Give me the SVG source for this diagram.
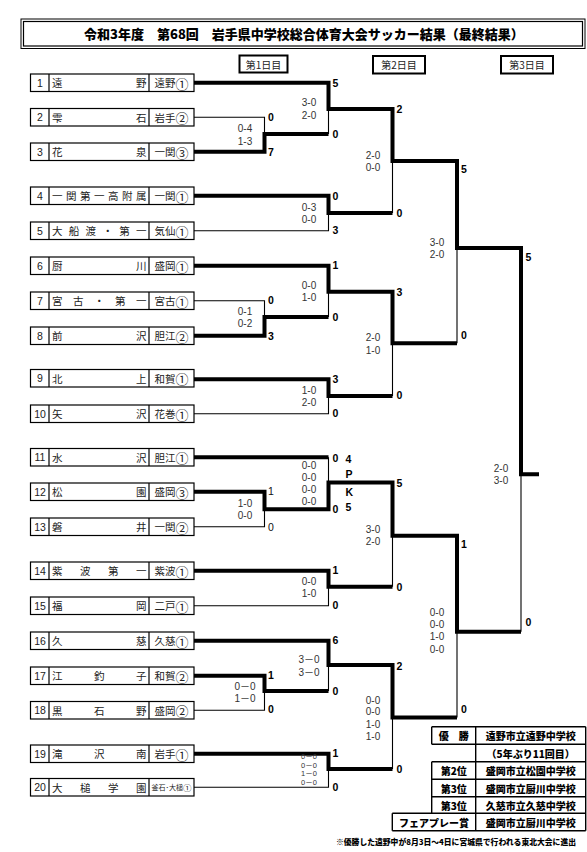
<svg xmlns="http://www.w3.org/2000/svg" width="587" height="852" viewBox="0 0 587 852">
<style>
text{dominant-baseline:central}
.box{fill:none;stroke:#000;stroke-width:1.2}
.num{font-family:"Liberation Sans",sans-serif;font-size:10.5px;fill:#222;text-anchor:middle}
.nm{font-family:"Noto Sans CJK JP",sans-serif;font-size:10.5px;fill:#222}
.rg{font-family:"Noto Sans CJK JP",sans-serif;font-size:10.5px;fill:#222;text-anchor:middle}
.c{font-size:13px}
.sm{font-size:7px}
.thick{fill:none;stroke:#000;stroke-width:4;stroke-linejoin:miter}
.thin{fill:none;stroke:#000;stroke-width:1.1}
.s{font-family:"Liberation Sans","Noto Sans CJK JP",sans-serif;font-size:10px;fill:#333;text-anchor:middle}
.ss{font-family:"Liberation Sans","Noto Sans CJK JP",sans-serif;font-size:7.5px;fill:#333;text-anchor:middle}
.w{font-family:"Liberation Sans",sans-serif;font-size:10.5px;font-weight:bold;fill:#000}
.wn{font-family:"Liberation Sans",sans-serif;font-size:10.5px;fill:#111}
.day{font-family:"Noto Sans CJK JP",sans-serif;font-size:10px;fill:#222;text-anchor:middle}
.dbox{fill:none;stroke:#000;stroke-width:2}
.tb{font-family:"Noto Sans CJK JP",sans-serif;font-size:10px;font-weight:900;fill:#000;text-anchor:middle}
.fn{font-family:"Noto Sans CJK JP",sans-serif;font-size:7.8px;font-weight:900;fill:#000;text-anchor:middle}
.tl{fill:none;stroke:#000;stroke-width:1.4}
</style>

<g id="title">
<rect x="21" y="19" width="564" height="29.5" fill="none" stroke="#000" stroke-width="1"/>
<rect x="23.5" y="21.5" width="559" height="24.5" fill="none" stroke="#000" stroke-width="1.2"/>
<text x="304" y="33.5" font-family="Noto Sans CJK JP,sans-serif" font-size="13" font-weight="900" fill="#000" text-anchor="middle">令和3年度　第68回　岩手県中学校総合体育大会サッカー結果（最終結果）</text>
</g>

<g id="day1"><rect x="239.5" y="55.5" width="48" height="17" class="dbox"/><text x="263.5" y="64" class="day">第1日目</text></g>
<g id="day2"><rect x="373" y="56" width="52" height="17.5" class="dbox"/><text x="399" y="64.75" class="day">第2日目</text></g>
<g id="day3"><rect x="501" y="56" width="52" height="17.5" class="dbox"/><text x="527" y="64.75" class="day">第3日目</text></g>

<g id="team1" transform="translate(0,74)"><rect x="30.5" y="0" width="163.5" height="17.5" class="box"/><path d="M49 0V17.5M149 0V17.5" class="box"/><text x="40" y="8.75" class="num">1</text><text x="52 136" y="8.75" class="nm">遠野</text><text x="171.5" y="8.75" class="rg">遠野<tspan class="c">①</tspan></text></g>
<g id="team2" transform="translate(0,108.5)"><rect x="30.5" y="0" width="163.5" height="17.5" class="box"/><path d="M49 0V17.5M149 0V17.5" class="box"/><text x="40" y="8.75" class="num">2</text><text x="52 136" y="8.75" class="nm">雫石</text><text x="171.5" y="8.75" class="rg">岩手<tspan class="c">②</tspan></text></g>
<g id="team3" transform="translate(0,143)"><rect x="30.5" y="0" width="163.5" height="17.5" class="box"/><path d="M49 0V17.5M149 0V17.5" class="box"/><text x="40" y="8.75" class="num">3</text><text x="52 136" y="8.75" class="nm">花泉</text><text x="171.5" y="8.75" class="rg">一関<tspan class="c">③</tspan></text></g>
<g id="team4" transform="translate(0,187)"><rect x="30.5" y="0" width="163.5" height="17.5" class="box"/><path d="M49 0V17.5M149 0V17.5" class="box"/><text x="40" y="8.75" class="num">4</text><text x="52 66 80 94 108 122 136" y="8.75" class="nm">一関第一高附属</text><text x="171.5" y="8.75" class="rg">一関<tspan class="c">①</tspan></text></g>
<g id="team5" transform="translate(0,222)"><rect x="30.5" y="0" width="163.5" height="17.5" class="box"/><path d="M49 0V17.5M149 0V17.5" class="box"/><text x="40" y="8.75" class="num">5</text><text x="52 68.8 85.6 102.4 119.2 136" y="8.75" class="nm">大船渡・第一</text><text x="171.5" y="8.75" class="rg">気仙<tspan class="c">①</tspan></text></g>
<g id="team6" transform="translate(0,257)"><rect x="30.5" y="0" width="163.5" height="17.5" class="box"/><path d="M49 0V17.5M149 0V17.5" class="box"/><text x="40" y="8.75" class="num">6</text><text x="52 136" y="8.75" class="nm">厨川</text><text x="171.5" y="8.75" class="rg">盛岡<tspan class="c">①</tspan></text></g>
<g id="team7" transform="translate(0,292)"><rect x="30.5" y="0" width="163.5" height="17.5" class="box"/><path d="M49 0V17.5M149 0V17.5" class="box"/><text x="40" y="8.75" class="num">7</text><text x="52 73 94 115 136" y="8.75" class="nm">宮古・第一</text><text x="171.5" y="8.75" class="rg">宮古<tspan class="c">①</tspan></text></g>
<g id="team8" transform="translate(0,327)"><rect x="30.5" y="0" width="163.5" height="17.5" class="box"/><path d="M49 0V17.5M149 0V17.5" class="box"/><text x="40" y="8.75" class="num">8</text><text x="52 136" y="8.75" class="nm">前沢</text><text x="171.5" y="8.75" class="rg">胆江<tspan class="c">②</tspan></text></g>
<g id="team9" transform="translate(0,369.5)"><rect x="30.5" y="0" width="163.5" height="17.5" class="box"/><path d="M49 0V17.5M149 0V17.5" class="box"/><text x="40" y="8.75" class="num">9</text><text x="52 136" y="8.75" class="nm">北上</text><text x="171.5" y="8.75" class="rg">和賀<tspan class="c">①</tspan></text></g>
<g id="team10" transform="translate(0,405)"><rect x="30.5" y="0" width="163.5" height="17.5" class="box"/><path d="M49 0V17.5M149 0V17.5" class="box"/><text x="40" y="8.75" class="num">10</text><text x="52 136" y="8.75" class="nm">矢沢</text><text x="171.5" y="8.75" class="rg">花巻<tspan class="c">①</tspan></text></g>
<g id="team11" transform="translate(0,448.5)"><rect x="30.5" y="0" width="163.5" height="17.5" class="box"/><path d="M49 0V17.5M149 0V17.5" class="box"/><text x="40" y="8.75" class="num">11</text><text x="52 136" y="8.75" class="nm">水沢</text><text x="171.5" y="8.75" class="rg">胆江<tspan class="c">①</tspan></text></g>
<g id="team12" transform="translate(0,483)"><rect x="30.5" y="0" width="163.5" height="17.5" class="box"/><path d="M49 0V17.5M149 0V17.5" class="box"/><text x="40" y="8.75" class="num">12</text><text x="52 136" y="8.75" class="nm">松園</text><text x="171.5" y="8.75" class="rg">盛岡<tspan class="c">③</tspan></text></g>
<g id="team13" transform="translate(0,518)"><rect x="30.5" y="0" width="163.5" height="17.5" class="box"/><path d="M49 0V17.5M149 0V17.5" class="box"/><text x="40" y="8.75" class="num">13</text><text x="52 136" y="8.75" class="nm">磐井</text><text x="171.5" y="8.75" class="rg">一関<tspan class="c">②</tspan></text></g>
<g id="team14" transform="translate(0,562)"><rect x="30.5" y="0" width="163.5" height="17.5" class="box"/><path d="M49 0V17.5M149 0V17.5" class="box"/><text x="40" y="8.75" class="num">14</text><text x="52 80 108 136" y="8.75" class="nm">紫波第一</text><text x="171.5" y="8.75" class="rg">紫波<tspan class="c">①</tspan></text></g>
<g id="team15" transform="translate(0,597)"><rect x="30.5" y="0" width="163.5" height="17.5" class="box"/><path d="M49 0V17.5M149 0V17.5" class="box"/><text x="40" y="8.75" class="num">15</text><text x="52 136" y="8.75" class="nm">福岡</text><text x="171.5" y="8.75" class="rg">二戸<tspan class="c">①</tspan></text></g>
<g id="team16" transform="translate(0,632)"><rect x="30.5" y="0" width="163.5" height="17.5" class="box"/><path d="M49 0V17.5M149 0V17.5" class="box"/><text x="40" y="8.75" class="num">16</text><text x="52 136" y="8.75" class="nm">久慈</text><text x="171.5" y="8.75" class="rg">久慈<tspan class="c">①</tspan></text></g>
<g id="team17" transform="translate(0,667)"><rect x="30.5" y="0" width="163.5" height="17.5" class="box"/><path d="M49 0V17.5M149 0V17.5" class="box"/><text x="40" y="8.75" class="num">17</text><text x="52 94 136" y="8.75" class="nm">江釣子</text><text x="171.5" y="8.75" class="rg">和賀<tspan class="c">②</tspan></text></g>
<g id="team18" transform="translate(0,701.5)"><rect x="30.5" y="0" width="163.5" height="17.5" class="box"/><path d="M49 0V17.5M149 0V17.5" class="box"/><text x="40" y="8.75" class="num">18</text><text x="52 94 136" y="8.75" class="nm">黒石野</text><text x="171.5" y="8.75" class="rg">盛岡<tspan class="c">②</tspan></text></g>
<g id="team19" transform="translate(0,745)"><rect x="30.5" y="0" width="163.5" height="17.5" class="box"/><path d="M49 0V17.5M149 0V17.5" class="box"/><text x="40" y="8.75" class="num">19</text><text x="52 94 136" y="8.75" class="nm">滝沢南</text><text x="171.5" y="8.75" class="rg">岩手<tspan class="c">①</tspan></text></g>
<g id="team20" transform="translate(0,778.5)"><rect x="30.5" y="0" width="163.5" height="17.5" class="box"/><path d="M49 0V17.5M149 0V17.5" class="box"/><text x="40" y="8.75" class="num">20</text><text x="52 80 108 136" y="8.75" class="nm">大槌学園</text><text x="171.5" y="8.75" class="rg sm">釜石･大槌<tspan style="font-size:8.5px">①</tspan></text></g>

<g id="connectors">
<path class="thin" d="M194 117.25H264.5V134M194 230.75H328.5V213M194 300.75H264.5V317M194 413.75H328.5V396M328.5 457.25V482.5M194 526.75H264.5V509.3M194 605.75H328.5V586.7M194 710.25H264.5V691M194 787.25H328.5V769M328.5 109V134M328.5 291.7V317M328.5 665V691M392.5 161V213M392.5 343.3V396M392.5 535.7V586.7M392.5 717.5V769M457 248V343.3M457 631.7V717.5M521 474.3V631.7"/>
<path class="thick" d="M194 82.75H328.5V109H392.5V161H457V248H521V474.3H539"/>
<path class="thick" d="M194 151.75H264.5V134H328.5"/>
<path class="thick" d="M194 195.75H328.5V213H392.5"/>
<path class="thick" d="M194 265.75H328.5V291.7H392.5V343.3H457"/>
<path class="thick" d="M194 335.75H264.5V317H328.5"/>
<path class="thick" d="M194 379.25H328.5V396H392.5"/>
<path class="thick" d="M194 457.25H328.5"/>
<path class="thick" d="M194 491.75H264.5V509.3H328.5V482.5H392.5V535.7H457V631.7H521"/>
<path class="thick" d="M194 570.75H328.5V586.7H392.5"/>
<path class="thick" d="M194 640.75H328.5V665H392.5V717.5H457"/>
<path class="thick" d="M194 675.75H264.5V691H328.5"/>
<path class="thick" d="M194 753.75H328.5V769H392.5"/>
</g>

<g id="labels">
<text x="268" y="117.3" class="w">0</text><text x="268" y="151.7" class="w">7</text>
<text x="268" y="300.3" class="w">0</text><text x="268" y="335.7" class="w">3</text>
<text x="268" y="491" class="wn">1</text><text x="268" y="526.7" class="wn">0</text>
<text x="268" y="675" class="w">1</text><text x="268" y="709.3" class="w">0</text>
<text x="332.5" y="83" class="w">5</text><text x="332.5" y="134" class="w">0</text>
<text x="332.5" y="195.7" class="w">0</text><text x="332.5" y="230" class="w">3</text>
<text x="332.5" y="265" class="w">1</text><text x="332.5" y="317" class="w">0</text>
<text x="332.5" y="378.5" class="w">3</text><text x="332.5" y="413" class="w">0</text>
<text x="332.5" y="457.7" class="w">0</text><text x="332.5" y="509" class="w">0</text>
<text x="332.5" y="570.3" class="w">1</text><text x="332.5" y="605" class="w">0</text>
<text x="332.5" y="640" class="w">6</text><text x="332.5" y="691" class="w">0</text>
<text x="332.5" y="753.3" class="w">1</text><text x="332.5" y="786.7" class="w">0</text>
<text x="345.5" y="459.3" class="w">4</text><text x="345.5" y="474.3" class="w">P</text><text x="345.5" y="492.3" class="w">K</text><text x="345.5" y="507.3" class="w">5</text>
<text x="396.5" y="109" class="w">2</text><text x="396.5" y="213.3" class="w">0</text>
<text x="396.5" y="291.7" class="w">3</text><text x="396.5" y="395.3" class="w">0</text>
<text x="396.5" y="482.7" class="w">5</text><text x="396.5" y="586.7" class="w">0</text>
<text x="396.5" y="666" class="w">2</text><text x="396.5" y="769" class="w">0</text>
<text x="461" y="169" class="w">5</text><text x="461" y="335" class="w">0</text>
<text x="461" y="544" class="w">1</text><text x="461" y="709" class="w">0</text>
<text x="525.5" y="256.7" class="w">5</text><text x="525.5" y="622.3" class="w">0</text>

<text x="245" y="128.7" class="s">0-4</text><text x="245" y="141.3" class="s">1-3</text>
<text x="245" y="311" class="s">0-1</text><text x="245" y="323.3" class="s">0-2</text>
<text x="245" y="503" class="s">1-0</text><text x="245" y="515" class="s">0-0</text>
<text x="245" y="686" class="s">0－0</text><text x="245" y="698.3" class="s">1－0</text>
<text x="309" y="102.7" class="s">3-0</text><text x="309" y="115" class="s">2-0</text>
<text x="309" y="207.3" class="s">0-3</text><text x="309" y="219.3" class="s">0-0</text>
<text x="309" y="285" class="s">0-0</text><text x="309" y="297.3" class="s">1-0</text>
<text x="309" y="390.3" class="s">1-0</text><text x="309" y="402.7" class="s">2-0</text>
<text x="309" y="465.3" class="s">0-0</text><text x="309" y="477.3" class="s">0-0</text><text x="309" y="489.3" class="s">0-0</text><text x="309" y="501.3" class="s">0-0</text>
<text x="309" y="581.7" class="s">0-0</text><text x="309" y="593.3" class="s">1-0</text>
<text x="309" y="659.3" class="s">3－0</text><text x="309" y="672.3" class="s">3－0</text>
<text x="309" y="756.7" class="ss">0－0</text><text x="309" y="765" class="ss">0－0</text><text x="309" y="773.7" class="ss">1－0</text><text x="309" y="782.3" class="ss">0－0</text>
<text x="373" y="155.7" class="s">2-0</text><text x="373" y="167.7" class="s">0-0</text>
<text x="373" y="337.3" class="s">2-0</text><text x="373" y="350" class="s">1-0</text>
<text x="373" y="529.3" class="s">3-0</text><text x="373" y="541" class="s">2-0</text>
<text x="373" y="700" class="s">0-0</text><text x="373" y="711.7" class="s">0-0</text><text x="373" y="724.3" class="s">1-0</text><text x="373" y="736.7" class="s">1-0</text>
<text x="437" y="242.3" class="s">3-0</text><text x="437" y="254.3" class="s">2-0</text>
<text x="437" y="612.3" class="s">0-0</text><text x="437" y="624.5" class="s">0-0</text><text x="437" y="636.5" class="s">1-0</text><text x="437" y="649" class="s">0-0</text>
<text x="501" y="468.3" class="s">2-0</text><text x="501" y="480.3" class="s">3-0</text>
</g>

<g id="results">
<path class="tl" d="M431.7 726.7H585.7M431.7 744.3H585.7M431.7 761.7H585.7M431.7 779.3H585.7M431.7 796.7H585.7M392.3 813.3H585.7M392.3 830.7H585.7M431.7 726.7V744.3M431.7 761.7V813.3M392.3 813.3V830.7M475.7 726.7V830.7M585.7 726.7V830.7"/>
<text x="453.7" y="735.5" class="tb">優　勝</text><text x="530.7" y="735.5" class="tb">遠野市立遠野中学校</text>
<text x="530.7" y="753" class="tb">（5年ぶり11回目）</text>
<text x="453.7" y="770.5" class="tb">第2位</text><text x="530.7" y="770.5" class="tb">盛岡市立松園中学校</text>
<text x="453.7" y="788" class="tb">第3位</text><text x="530.7" y="788" class="tb">盛岡市立厨川中学校</text>
<text x="453.7" y="805" class="tb">第3位</text><text x="530.7" y="805" class="tb">久慈市立久慈中学校</text>
<text x="434" y="822" class="tb">フェアプレー賞</text><text x="530.7" y="822" class="tb">盛岡市立厨川中学校</text>
<text x="456" y="841" class="fn">※優勝した遠野中が8月3日～4日に宮城県で行われる東北大会に進出</text>
</g>
</svg>
